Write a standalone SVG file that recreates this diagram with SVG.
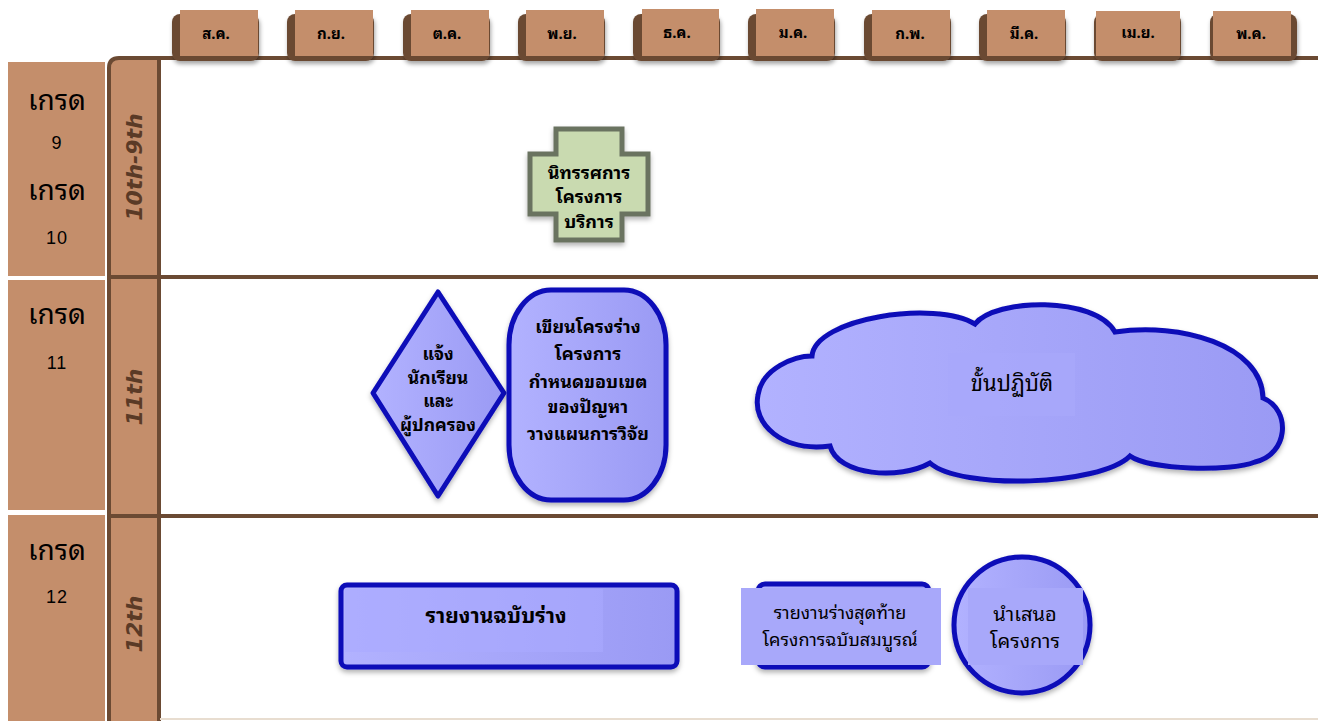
<svg xmlns="http://www.w3.org/2000/svg" width="1318" height="721" viewBox="0 0 1318 721">
<defs>
<linearGradient id="blue" x1="0" y1="0" x2="1" y2="0">
<stop offset="0" stop-color="#b2b2ff"/>
<stop offset="1" stop-color="#9a9af4"/>
</linearGradient>
<filter id="sh" x="-10%" y="-10%" width="125%" height="130%">
<feDropShadow dx="1" dy="3" stdDeviation="2" flood-color="#000" flood-opacity="0.35"/>
</filter>
<filter id="sh2" x="-10%" y="-10%" width="125%" height="130%">
<feDropShadow dx="0" dy="3" stdDeviation="2.5" flood-color="#000" flood-opacity="0.3"/>
</filter>
</defs>
<style>
.th{font-family:"Noto Sans Thai Looped","Loma","Garuda","Tahoma","Noto Sans Thai","Noto Sans","DejaVu Sans",sans-serif;fill:#000;text-anchor:middle}
.mon{font-size:15px;font-weight:bold}
.grade{font-size:28px}
.num{font-family:"Liberation Sans",Arial,sans-serif;font-size:18px;text-anchor:middle;fill:#000;letter-spacing:1px}
.vlab{font-family:"DejaVu Sans",sans-serif;font-weight:bold;font-style:italic;font-size:22px;fill:#5a3a26;text-anchor:middle}
.brown{fill:#c48e6b}
.dk{fill:#6b4a33}
.line{stroke:#6b4a33;stroke-width:4;fill:none}
.bshape{fill:url(#blue);stroke:#0c0cb8;stroke-width:5;filter:url(#sh2)}
.nl{font-size:18px;font-weight:bold}
.dl{font-size:17.5px;font-weight:bold}
</style>
<rect width="1318" height="721" fill="#fff"/>

<g id="grid">
<rect x="110" y="60" width="49" height="661" class="brown"/>
<path class="line" d="M109,721 V68 Q109,58 119,58 H1318"/>
<line class="line" x1="159" y1="60" x2="159" y2="721"/>
<line class="line" x1="108" y1="277" x2="1318" y2="277" stroke-width="3"/>
<line class="line" x1="108" y1="516" x2="1318" y2="516" stroke-width="3"/>
<line x1="160" y1="719" x2="1318" y2="719" stroke="#e8ddd0" stroke-width="2"/>
</g>

<g id="months">
<g id="m1"><rect x="172" y="14" width="87" height="47" rx="8" class="dk" filter="url(#sh)"/><rect x="180" y="10" width="78" height="46" class="brown"/><text x="216" y="39" class="th mon">ส.ค.</text></g>
<g id="m2"><rect x="287" y="14" width="87" height="47" rx="8" class="dk" filter="url(#sh)"/><rect x="295" y="10" width="78" height="46" class="brown"/><text x="331" y="39" class="th mon">ก.ย.</text></g>
<g id="m3"><rect x="403" y="14" width="87" height="47" rx="8" class="dk" filter="url(#sh)"/><rect x="411" y="10" width="78" height="46" class="brown"/><text x="447" y="39" class="th mon">ต.ค.</text></g>
<g id="m4"><rect x="518" y="14" width="87" height="47" rx="8" class="dk" filter="url(#sh)"/><rect x="526" y="10" width="78" height="46" class="brown"/><text x="562" y="39" class="th mon">พ.ย.</text></g>
<g id="m5"><rect x="633" y="14" width="87" height="47" rx="8" class="dk" filter="url(#sh)"/><rect x="642" y="9" width="77" height="47" class="brown"/><text x="677" y="38" class="th mon">ธ.ค.</text></g>
<g id="m6"><rect x="748" y="14" width="87" height="47" rx="8" class="dk" filter="url(#sh)"/><rect x="756" y="9" width="78" height="47" class="brown"/><text x="793" y="38" class="th mon">ม.ค.</text></g>
<g id="m7"><rect x="864" y="14" width="87" height="47" rx="8" class="dk" filter="url(#sh)"/><rect x="872" y="10" width="78" height="46" class="brown"/><text x="910" y="39" class="th mon">ก.พ.</text></g>
<g id="m8"><rect x="979" y="14" width="87" height="47" rx="8" class="dk" filter="url(#sh)"/><rect x="987" y="10" width="78" height="46" class="brown"/><text x="1024" y="39" class="th mon">มี.ค.</text></g>
<g id="m9"><rect x="1094" y="14" width="87" height="47" rx="8" class="dk" filter="url(#sh)"/><rect x="1096" y="11" width="84" height="45" class="brown"/><text x="1138" y="38" class="th mon">เม.ย.</text></g>
<g id="m10"><rect x="1210" y="14" width="87" height="47" rx="8" class="dk" filter="url(#sh)"/><rect x="1213" y="11" width="78" height="45" class="brown"/><text x="1251" y="39" class="th mon">พ.ค.</text></g>
</g>

<g id="grades">
<g id="g1"><rect x="8" y="62" width="97" height="214" class="brown"/>
<text x="57" y="110" class="th grade">เกรด</text><text x="57" y="149" class="num">9</text>
<text x="57" y="200" class="th grade">เกรด</text><text x="57" y="244" class="num">10</text></g>
<g id="g2"><rect x="8" y="280" width="97" height="230" class="brown"/>
<text x="57" y="324" class="th grade">เกรด</text><text x="57" y="369" class="num">11</text></g>
<g id="g3"><rect x="8" y="515" width="97" height="206" class="brown"/>
<text x="57" y="560" class="th grade">เกรด</text><text x="57" y="603" class="num">12</text></g>
</g>

<g id="rowlabels">
<text class="vlab" transform="translate(142,167) rotate(-90)">10th-9th</text>
<text class="vlab" transform="translate(142,397) rotate(-90)">11th</text>
<text class="vlab" transform="translate(142,624) rotate(-90)">12th</text>
</g>

<g id="connectors"></g>

<g id="exhibition">
<path d="M556,129 H622 V154 H648 V214 H622 V240 H556 V214 H530 V154 H556 Z" fill="#c9dab0" stroke="#6b7360" stroke-width="5" filter="url(#sh2)"/>
<text x="589" y="179" class="th nl">นิทรรศการ</text>
<text x="589" y="203" class="th nl">โครงการ</text>
<text x="589" y="228" class="th nl">บริการ</text>
</g>

<g id="inform">
<path d="M438,292 L504,393 L438,496 L373,393 Z" class="bshape" stroke-linejoin="round"/>
<text x="438" y="360" class="th dl">แจ้ง</text>
<text x="438" y="384" class="th dl">นักเรียน</text>
<text x="438" y="407" class="th dl">และ</text>
<text x="438" y="431" class="th dl">ผู้ปกครอง</text>
</g>

<g id="outline">
<rect x="509" y="290" width="157" height="210" rx="42" ry="55" class="bshape"/>
<text x="588" y="333" class="th nl">เขียนโครงร่าง</text>
<text x="588" y="360" class="th nl">โครงการ</text>
<text x="588" y="388" class="th nl">กำหนดขอบเขต</text>
<text x="588" y="413" class="th nl">ของปัญหา</text>
<text x="588" y="440" class="th nl">วางแผนการวิจัย</text>
</g>

<g id="practice">
<path class="bshape" d="M812,356 C815,318 935,300 975,324 C995,298 1095,296 1115,332 C1180,322 1262,345 1263,398 C1292,410 1288,455 1255,462 C1230,472 1150,470 1130,456 C1100,486 960,490 930,463 C900,480 838,476 830,446 C782,452 752,424 758,395 C762,368 795,356 812,356 Z"/>
<rect x="948" y="353" width="127" height="63" fill="#a8a8fb" opacity="0.7"/>
<text x="1012" y="391" class="th" font-size="22">ขั้นปฏิบัติ</text>
</g>

<g id="draft">
<rect x="341" y="585" width="336" height="82" rx="6" class="bshape"/>
<rect x="345" y="589" width="258" height="63" fill="#aaaaff" opacity="0.6"/>
<text x="496" y="623" class="th" font-size="21" font-weight="bold">รายงานฉบับร่าง</text>
</g>

<g id="final">
<rect x="758" y="584" width="171" height="83" rx="7" class="bshape"/>
<rect x="741" y="588" width="200" height="77" fill="#a8a8fa"/>
<text x="840" y="619" class="th" font-size="18">รายงานร่างสุดท้าย</text>
<text x="840" y="646" class="th" font-size="18">โครงการฉบับสมบูรณ์</text>
</g>

<g id="present">
<circle cx="1022" cy="625" r="68" class="bshape"/>
<rect x="968" y="588" width="115" height="77" fill="#a8a8fa"/>
<text x="1025" y="621" class="th" font-size="20">นำเสนอ</text>
<text x="1025" y="648" class="th" font-size="20">โครงการ</text>
</g>
</svg>
